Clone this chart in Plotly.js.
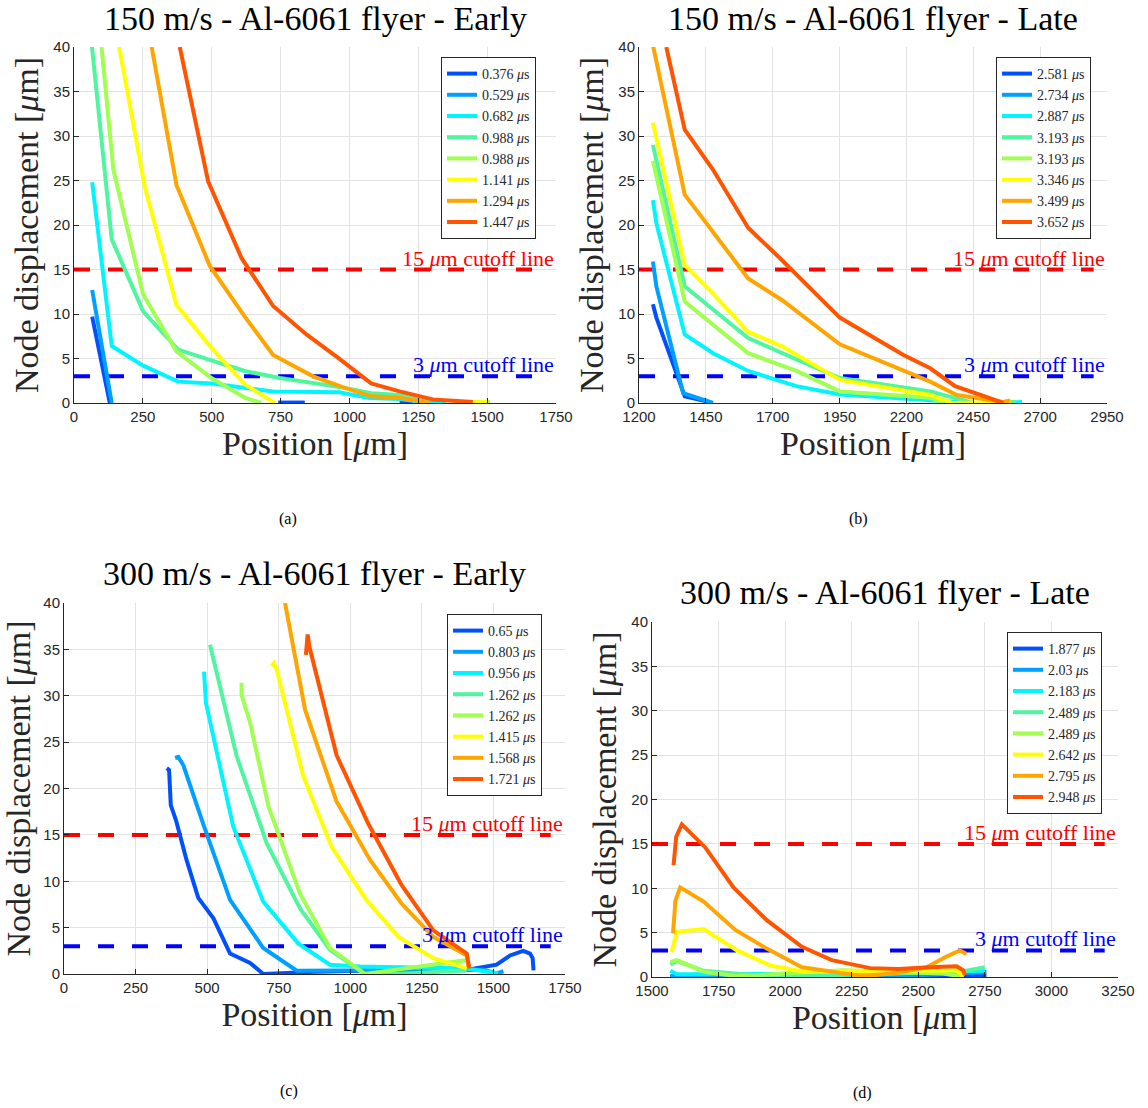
<!DOCTYPE html>
<html>
<head>
<meta charset="utf-8">
<script src="https://cdn.plot.ly/plotly-3.0.1.min.js"></script>
<style>html,body{margin:0;padding:0;background:#fff;}#chart{width:1148px;height:1108px;}</style>
</head>
<body>
<div id="chart"></div>
<script>
// ---------------- DATA ----------------
const JET = ['#0050FF', '#00A0FF', '#00F5FF', '#50F5A0', '#A0FF50', '#FFFF00', '#FFA500', '#FF5500'];
const CUTOFFS = [15, 3];

// Panel (a): 150 m/s early
const timesA = ['0.376', '0.529', '0.682', '0.988', '0.988', '1.141', '1.294', '1.447'];
const xA = [
  [66, 130, null, 741, 838, null, 1182, 1230],
  [66, 137],
  [66, 137, 251, 378, 499, 620, 723, 964, 1073, 1182, 1290, 1350],
  [62, 137, 251, 378, 487, 620, 747, 983, 1079, 1182, 1290],
  [100, 143, 251, 372, 499, 620, 680, null, 1440, 1510],
  [164, 257, 372, 499, 620, 729, null, 1440, 1500],
  [282, 372, 493, 620, 723, 868, 983, 1079, 1182, 1290],
  [384, 487, 608, 723, 844, 958, 1079, 1182, 1303, 1448]
];
const yA = [
  [9.7, 0, null, 0.05, 0.05, null, 0.1, 0.1],
  [12.7, 0],
  [24.8, 6.4, 4.2, 2.4, 2.2, 1.7, 1.3, 1.2, 0.55, 0.45, 0.05, 0],
  [41, 18.4, 10.3, 6.0, 4.9, 3.6, 2.8, 1.7, 1.1, 0.9, 0],
  [40, 26.2, 12.2, 5.8, 2.8, 0.6, 0, null, 0.1, 0.1],
  [40, 24.3, 11.0, 6.2, 2.1, 0, null, 0.1, 0.1],
  [40, 24.5, 15.4, 9.7, 5.4, 3.0, 1.7, 0.75, 0.6, 0],
  [40, 24.9, 16.3, 10.9, 7.7, 5.1, 2.2, 1.3, 0.4, 0.1]
];

// Panel (b): 150 m/s late
const timesB = ['2.581', '2.734', '2.887', '3.193', '3.193', '3.346', '3.499', '3.652'];
const xB = [
  [1252, 1265, 1371, 1465],
  [1252, 1265, 1365, 1477],
  [1252, 1265, 1371, 1477, 1608, 1789, 1951, 2451, 2632],
  [1252, 1371, 1477, 1608, 1789, 1951, 2289, 2376, 2451, 2610],
  [1252, 1371, 1477, 1608, 1789, 1951, 2289, 2338],
  [1252, 1371, 1477, 1608, 1733, 1951, 2289, 2370, 2500, 2590],
  [1250, 1371, 1608, 1733, 1951, 2289, 2388, 2563, 2588],
  [1302, 1371, 1477, 1608, 1733, 1951, 2189, 2289, 2382, 2563]
];
const yB = [
  [11.1, 9.6, 0.75, 0.1],
  [15.9, 13.1, 1.1, 0],
  [22.8, 20.2, 7.7, 5.6, 3.6, 1.9, 0.95, 0, 0.1],
  [29.0, 13.1, 10.5, 7.3, 4.9, 2.8, 1.3, 0.6, 0, 0.1],
  [27.2, 11.4, 8.8, 5.6, 3.6, 1.3, 0.6, 0],
  [31.5, 15.5, 12.3, 8.0, 6.4, 2.6, 0.9, 0, 0.05, 0.2],
  [40.5, 23.4, 14.0, 11.6, 6.6, 2.4, 0.9, 0.1, 0.3],
  [40, 30.7, 26.2, 19.7, 16.1, 9.6, 5.4, 3.9, 1.9, 0]
];

// Panel (c): 300 m/s early
const timesC = ['0.65', '0.803', '0.956', '1.262', '1.262', '1.415', '1.568', '1.721'];
const xC = [
  [359, 367, 373, 391, 428, 469, 522, 580, 650, 696, 883, 1115, 1400, 1511, 1558, 1604, 1628, 1637, 1640],
  [388, 399, 417, 487, 580, 696, 813, 1115, 1465, 1511, 1535],
  [489, 496, 591, 696, 818, 929, 1034, 1407, 1517],
  [510, 603, 708, 824, 929, 1051, 1162, 1407],
  [620, 620, 650, 714, 824, 929, 1051, 1290, 1407],
  [725, 733, 743, 836, 935, 1051, 1168, 1290, 1407],
  [772, 842, 952, 1069, 1179, 1290, 1407, 1412],
  [845, 851, 857, 952, 1063, 1179, 1290, 1407, 1416]
];
const yC = [
  [22.2, 22.0, 18.2, 16.6, 12.3, 8.2, 6.0, 2.2, 1.2, 0, 0.25, 0.4, 0.4, 1.0, 2.0, 2.5, 2.2, 1.7, 0.4],
  [23.3, 23.4, 22.5, 16.1, 8.0, 2.8, 0.35, 0.4, 0.45, 0.07, 0.3],
  [32.6, 29.2, 15.9, 7.8, 3.3, 1.0, 0.8, 0.6, 0.05],
  [35.5, 23.5, 14.1, 7.1, 2.6, 0, 0, 0.4],
  [31.4, 30.1, 27.1, 18.1, 8.7, 2.8, 0, 1.0, 1.5],
  [33.2, 33.5, 32.8, 21.3, 13.7, 8.2, 4.0, 1.7, 0.6],
  [40, 28.5, 18.6, 12.3, 7.6, 4.0, 2.0, 0.8],
  [34.4, 36.6, 35.3, 23.6, 16.2, 9.6, 4.7, 2.2, 0.6]
];

// Panel (d): 300 m/s late
const timesD = ['1.877', '2.03', '2.183', '2.489', '2.489', '2.642', '2.795', '2.948'];
const xD = [
  [1569, 2000, 2500, 2756],
  [1569, 2000, 2500, 2756],
  [1569, 1594, 2344, 2750],
  [1569, 1594, 1694, 1969, 2469, 2656, 2750],
  [1569, 1594, 1694, 1819, 2219, 2594, 2669],
  [1573, 1594, 1694, 1819, 1944, 2069, 2644, 2669],
  [1579, 1588, 1606, 1694, 1813, 1931, 2063, 2294, 2419, 2531, 2606, 2656, 2681],
  [1581, 1591, 1612, 1700, 1806, 1931, 2063, 2175, 2319, 2425, 2544, 2644, 2669, 2675]
];
const yD = [
  [0.05, 0.05, 0.1, 0.2],
  [0.08, 0.1, 0.2, 0.55],
  [0.7, 0.3, 0.4, 0.7],
  [1.4, 1.8, 0.7, 0, 0.45, 0.56, 1.1],
  [1.7, 1.9, 0.6, 0.1, 0.75, 0.4, 0],
  [2.8, 5.1, 5.4, 3.0, 1.3, 0.6, 0.75, 0],
  [4.9, 8.6, 10.1, 8.5, 5.3, 3.2, 1.1, 0.1, 0.45, 1.1, 2.3, 3.0, 2.6],
  [12.6, 15.8, 17.2, 14.6, 10.1, 6.4, 3.4, 1.9, 1.0, 0.9, 1.1, 1.2, 0.75, 0.2]
];

const titles = ['150 m/s - Al-6061 flyer - Early', '150 m/s - Al-6061 flyer - Late',
                '300 m/s - Al-6061 flyer - Early', '300 m/s - Al-6061 flyer - Late'];
const panelLabels = ['(a)', '(b)', '(c)', '(d)'];
const xRanges = [[0, 1750], [1200, 2950], [0, 1750], [1500, 3250]];
const yRange = [0, 40];

// ---------------- LAYOUT GEOMETRY (pixels) ----------------
const W = 1148, H = 1108;
const boxes = [
  {l: 74, r: 556, t: 47, b: 403, titleY: 18, labelX: 288, labelY: 519, leg: [441, 57]},
  {l: 639, r: 1107, t: 47, b: 403, titleY: 18, labelX: 858, labelY: 519, leg: [996, 57]},
  {l: 64, r: 565, t: 603, b: 974, titleY: 573, labelX: 289, labelY: 1091, leg: [447, 614]},
  {l: 652, r: 1118, t: 622, b: 977, titleY: 592, labelX: 862, labelY: 1093, leg: [1007, 632]}
];
const px = v => v / W, py = v => 1 - v / H;

const SERIF = 'Liberation Serif, Times New Roman, serif';
const SANS = 'Liberation Sans, Arial, sans-serif';

const panels = [
  {times: timesA, xs: xA, ys: yA},
  {times: timesB, xs: xB, ys: yB},
  {times: timesC, xs: xC, ys: yC},
  {times: timesD, xs: xD, ys: yD}
];

const traces = [];
const layout = {
  width: W, height: H,
  margin: {l: 0, r: 0, t: 0, b: 0},
  paper_bgcolor: '#fff', plot_bgcolor: '#fff',
  showlegend: true,
  annotations: []
};

panels.forEach((p, i) => {
  const n = i + 1;
  const xa = n === 1 ? 'x' : 'x' + n;
  const ya = n === 1 ? 'y' : 'y' + n;
  const legName = n === 1 ? 'legend' : 'legend' + n;
  const bx = boxes[i];

  // cutoff lines
  CUTOFFS.forEach((c, k) => {
    traces.push({
      x: [xRanges[i][0], xRanges[i][1] - 50], y: [c, c],
      xaxis: xa, yaxis: ya, mode: 'lines', showlegend: false, hoverinfo: 'skip',
      line: {color: k === 0 ? '#FF0000' : '#0000FF', width: 4, dash: '16px,18px'}
    });
  });

  p.times.forEach((t, j) => {
    traces.push({
      x: p.xs[j], y: p.ys[j], xaxis: xa, yaxis: ya, legend: legName,
      mode: 'lines', name: t + ' <i>μ</i>s', connectgaps: false,
      line: {color: JET[j], width: 4}
    });
  });

  const axCommon = {
    showgrid: true, gridcolor: '#e3e3e3', gridwidth: 1,
    zeroline: false, showline: true, linecolor: '#262626', linewidth: 1,
    ticks: 'inside', ticklen: 5, tickcolor: '#262626',
    tickfont: {family: SANS, size: 15, color: '#262626'},
    mirror: false, automargin: false
  };
  layout['xaxis' + (n === 1 ? '' : n)] = Object.assign({}, axCommon, {
    domain: [px(bx.l), px(bx.r)], anchor: ya, range: xRanges[i],
    tickmode: 'linear', tick0: xRanges[i][0], dtick: 250,
    title: {text: 'Position [<i>μ</i>m]', font: {family: SERIF, size: 34, color: '#262626'}, standoff: 4}
  });
  layout['yaxis' + (n === 1 ? '' : n)] = Object.assign({}, axCommon, {
    domain: [py(bx.b), py(bx.t)], anchor: xa, range: yRange,
    tickmode: 'linear', tick0: 0, dtick: 5,
    title: {text: 'Node displacement [<i>μ</i>m]', font: {family: SERIF, size: 34, color: '#262626'}, standoff: 4}
  });

  layout[legName] = {
    x: px(bx.leg[0]), y: py(bx.leg[1]), xanchor: 'left', yanchor: 'top',
    bgcolor: '#fff', bordercolor: '#262626', borderwidth: 1,
    font: {family: SERIF, size: 14, color: '#262626'},
    itemwidth: 30, tracegroupgap: 0
  };

  layout.annotations.push({
    xref: 'paper', yref: 'paper', x: px((bx.l + bx.r) / 2), y: py(bx.titleY),
    text: titles[i], showarrow: false, xanchor: 'center', yanchor: 'middle',
    font: {family: SERIF, size: 34, color: '#000'}
  });
  layout.annotations.push({
    xref: 'paper', yref: 'paper', x: px(bx.labelX), y: py(bx.labelY),
    text: panelLabels[i], showarrow: false, xanchor: 'center', yanchor: 'middle',
    font: {family: SERIF, size: 16, color: '#000'}
  });
  CUTOFFS.forEach((c, k) => {
    layout.annotations.push({
      xref: xa, yref: ya, x: xRanges[i][1], y: c,
      text: c + ' <i>μ</i>m cutoff line', showarrow: false,
      xanchor: 'right', yanchor: 'bottom', yshift: -3,
      font: {family: SERIF, size: 22, color: k === 0 ? '#FF0000' : '#0000FF'}
    });
  });
});

Plotly.newPlot('chart', traces, layout, {staticPlot: true});
</script>
</body>
</html>
